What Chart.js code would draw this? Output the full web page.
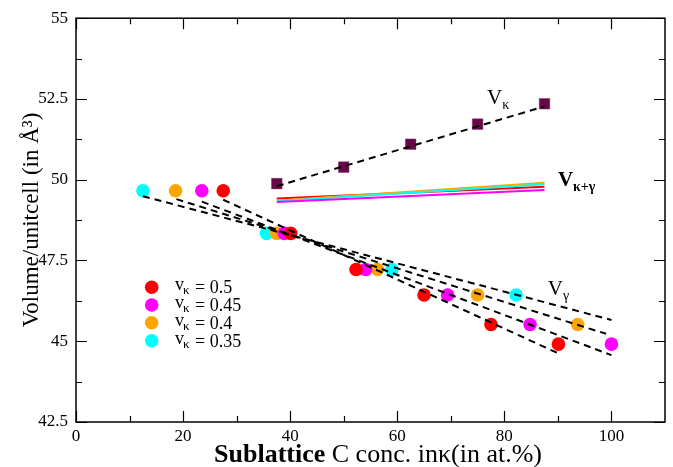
<!DOCTYPE html>
<html><head><meta charset="utf-8">
<script src="https://cdn.jsdelivr.net/npm/chart.js@4.4.1/dist/chart.umd.min.js"></script>
<style>html,body{margin:0;padding:0;background:#fff;}#wrap{width:673px;height:467px;}</style>
</head><body><div id="wrap"><canvas id="c" width="673" height="467"></canvas></div>
<script>
// ---- data ----
const vKappa = [0.5, 0.45, 0.4, 0.35];
const seriesColors = ['#ff0000', '#ff00ff', '#ffa500', '#00ffff'];

const concV050 = [27.5, 40.1, 52.3, 65.0, 77.5, 90.1];
const volV050  = [49.66, 48.34, 47.22, 46.43, 45.52, 44.91];
const concV045 = [23.5, 38.9, 54.1, 69.4, 84.8, 100.0];
const volV045  = [49.66, 48.34, 47.22, 46.43, 45.52, 44.91];
const concV040 = [18.6, 37.5, 56.3, 75.0, 93.7];
const volV040  = [49.66, 48.34, 47.22, 46.43, 45.52];
const concV035 = [12.5, 35.6, 59.0, 82.2];
const volV035  = [49.66, 48.34, 47.22, 46.43];

const concKappa = [37.5, 50, 62.5, 75, 87.5];
const volKappa  = [49.88, 50.39, 51.10, 51.72, 52.35];

// dashed fit lines (end points)
const fitKappaX = [37.5, 87.5];
const fitKappaY = [49.80, 52.27];
const fitV050X = [27.5, 90.0];
const fitV050Y = [49.38, 44.63];
const fitV045X = [23.5, 100.0];
const fitV045Y = [49.32, 44.57];
const fitV040X = [18.75, 99.0];
const fitV040Y = [49.40, 45.23];
const fitV035X = [12.5, 100.0];
const fitV035Y = [49.49, 45.66];

// V kappa+gamma solid lines
const mixX = [37.5, 87.5];
const mixV050 = [49.42, 49.78];
const mixV045 = [49.31, 49.68];
const mixV040 = [49.36, 49.91];
const mixV035 = [49.33, 49.86];

const xTicks = [0, 20, 40, 60, 80, 100];
const xMinor = [10, 30, 50, 70, 90];
const yTicks = [42.5, 45, 47.5, 50, 52.5, 55];
const yMinor = [43.75, 46.25, 48.75, 51.25, 53.75];

const xTitleParts = [['Sublattice', 'bold'], [' C conc. in', 'normal'], ['κ(in at.%)', 'normal']];
const yTitle = 'Volume/unitcell (in Å³)';

// ---- build datasets ----
const zip = (xs, ys) => xs.map((x, i) => ({x: x, y: ys[i]}));
const SERIF = '"Liberation Serif", "DejaVu Serif", serif';

const pointSets = [[concV050, volV050], [concV045, volV045], [concV040, volV040], [concV035, volV035]];
const fitSets = [[fitV050X, fitV050Y], [fitV045X, fitV045Y], [fitV040X, fitV040Y], [fitV035X, fitV035Y]];
const mixSets = [mixV050, mixV045, mixV040, mixV035];

const datasets = [];
[1, 3, 2, 0].forEach(i => {
  datasets.push({type: 'scatter', label: 'mix' + vKappa[i], data: zip(mixX, mixSets[i]), showLine: true,
    borderColor: seriesColors[i], borderWidth: 2, pointRadius: 0, fill: false, order: 2});
});
pointSets.forEach((s, i) => {
  datasets.push({type: 'scatter', label: 'v=' + vKappa[i], data: zip(s[0], s[1]), showLine: false,
    backgroundColor: seriesColors[i], borderWidth: 0, pointRadius: 6.8, pointStyle: 'circle', order: 3});
});
datasets.push({type: 'scatter', label: 'Vkappa', data: zip(concKappa, volKappa), showLine: false,
  backgroundColor: '#670748', borderColor: '#8a3a70', borderWidth: 0.5, pointRadius: 7.5, pointStyle: 'rect', order: 3});
fitSets.forEach((s, i) => {
  datasets.push({type: 'scatter', label: 'fit' + vKappa[i], data: zip(s[0], s[1]), showLine: true,
    borderColor: '#000', borderWidth: 2, borderDash: [7, 5], pointRadius: 0, fill: false, order: 1});
});
datasets.push({type: 'scatter', label: 'fitKappa', data: zip(fitKappaX, fitKappaY), showLine: true,
  borderColor: '#000', borderWidth: 2, borderDash: [7, 5], pointRadius: 0, fill: false, order: 1});

// ---- decorations plugin ----
const deco = {
  id: 'deco',
  afterDraw(chart) {
    const c = chart.ctx, a = chart.chartArea, xs = chart.scales.x, ys = chart.scales.y;
    c.save();
    c.strokeStyle = '#000';
    c.lineWidth = 1.5;
    c.strokeRect(a.left, a.top, a.right - a.left, a.bottom - a.top);
    c.lineWidth = 1.2;
    c.beginPath();
    const tick = (vals, len, axis) => vals.forEach(v => {
      if (axis === 'x') {
        const p = Math.round(xs.getPixelForValue(v)) + 0.5;
        c.moveTo(p, a.bottom); c.lineTo(p, a.bottom - len);
        c.moveTo(p, a.top); c.lineTo(p, a.top + len);
      } else {
        const p = Math.round(ys.getPixelForValue(v)) + 0.5;
        c.moveTo(a.left, p); c.lineTo(a.left + len, p);
        c.moveTo(a.right, p); c.lineTo(a.right - len, p);
      }
    });
    tick(xTicks, 11, 'x'); tick(xMinor, 6, 'x');
    tick(yTicks, 11, 'y'); tick(yMinor, 6, 'y');
    c.stroke();

    c.fillStyle = '#000';
    c.save();
    c.translate(32, 220);
    c.rotate(-Math.PI / 2);
    c.font = '23px ' + SERIF;
    c.textAlign = 'center'; c.textBaseline = 'middle';
    c.fillText(yTitle, 0, 0);
    c.restore();

    c.textBaseline = 'middle'; c.textAlign = 'left';
    let total = 0;
    xTitleParts.forEach(p => { c.font = p[1] + ' 26px ' + SERIF; total += c.measureText(p[0]).width; });
    let xx = 378 - total / 2;
    xTitleParts.forEach(p => { c.font = p[1] + ' 26px ' + SERIF; c.fillText(p[0], xx, 455); xx += c.measureText(p[0]).width; });

    c.textBaseline = 'alphabetic';
    const lab = (xv, yv, main, sub, bold) => {
      const px = xs.getPixelForValue(xv), py = ys.getPixelForValue(yv);
      c.font = (bold ? 'bold ' : '') + '21px ' + SERIF;
      c.fillText(main, px, py);
      const w = c.measureText(main).width;
      c.font = (bold ? 'bold ' : '') + '14px ' + SERIF;
      c.fillText(sub, px + w, py + 5);
    };
    lab(76.75, 52.35, 'V', 'κ', false);
    lab(90.0, 49.81, 'V', 'κ+γ', true);
    lab(88.1, 46.42, 'V', 'γ', false);

    const legX = 151.7, legY = [287.3, 305, 322.7, 340.7];
    vKappa.forEach((v, i) => {
      c.fillStyle = seriesColors[i];
      c.beginPath(); c.arc(legX, legY[i], 6.8, 0, Math.PI * 2); c.fill();
      c.fillStyle = '#000';
      c.textBaseline = 'alphabetic';
      c.font = '18px ' + SERIF;
      c.fillText('v', 175, legY[i] + 3);
      c.font = '13px ' + SERIF;
      c.fillText('κ', 183, legY[i] + 7);
      c.font = '18px ' + SERIF;
      c.fillText('= ' + v, 195, legY[i] + 6);
    });
    c.restore();
  }
};

new Chart(document.getElementById('c').getContext('2d'), {
  type: 'scatter',
  data: {datasets: datasets},
  options: {
    responsive: false, animation: false, devicePixelRatio: 1,
    layout: {padding: {top: 11, right: 8, left: 0, bottom: 0}},
    plugins: {legend: {display: false}, tooltip: {enabled: false}},
    scales: {
      x: {type: 'linear', min: 0, max: 110,
        grid: {display: false, drawTicks: false}, border: {display: false},
        ticks: {color: '#000', font: {family: SERIF, size: 17}, padding: 4, maxRotation: 0, autoSkip: false},
        afterBuildTicks: s => { s.ticks = xTicks.map(v => ({value: v})); },
        afterFit: s => { s.height = 45; }},
      y: {type: 'linear', min: 42.5, max: 55,
        grid: {display: false, drawTicks: false}, border: {display: false},
        ticks: {color: '#000', font: {family: SERIF, size: 17}, padding: 8, autoSkip: false},
        afterBuildTicks: s => { s.ticks = yTicks.map(v => ({value: v})); },
        afterFit: s => { s.width = 76; }}
    }
  },
  plugins: [deco]
});
</script></body></html>
